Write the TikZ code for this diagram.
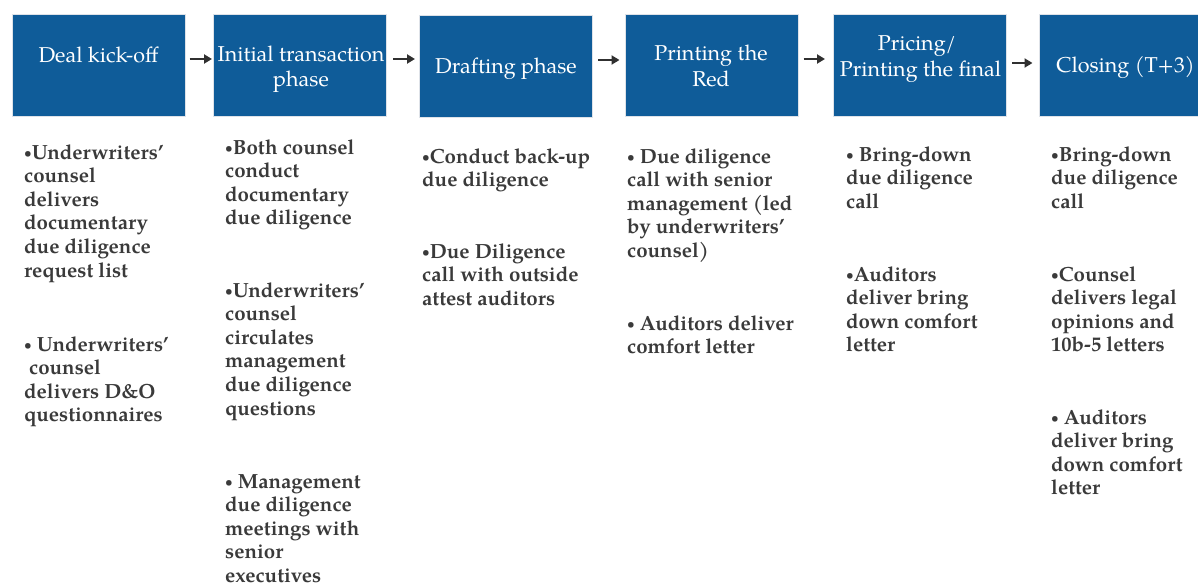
\documentclass[tikz,border=0pt]{standalone}
\usepackage{fontspec}
\setmainfont{texgyrepagella}[Extension=.otf, UprightFont=*-regular, BoldFont=*-bold, ItalicFont=*-italic, BoldItalicFont=*-bolditalic]
\usetikzlibrary{arrows.meta}
\definecolor{boxblue}{RGB}{15,92,153}
\definecolor{boxedge}{RGB}{222,226,232}
\definecolor{textgray}{RGB}{58,58,58}
\definecolor{arrowgray}{RGB}{48,48,48}
\newcommand\smbul{\raisebox{0.07em}{\scalebox{0.62}{•}}}
\tikzset{
  phasebox/.style={rectangle, fill=boxblue, draw=boxedge, line width=1pt, minimum width=173pt, minimum height=101pt, inner sep=0pt},
  ttl/.style={text=white, font=\fontsize{21.5}{26}\selectfont, anchor=base, inner sep=0pt},
  body/.style={text=textgray, font=\bfseries\fontsize{20.5}{24}\selectfont, anchor=base west, inner sep=0pt},
  flow/.style={draw=arrowgray, line width=2pt, -{Triangle[length=8pt,width=9pt]}}
}
\newcommand\bodypara[4]{%
  \foreach \lineT [count=\k] in {#4}{%
    \node[body] (#1-\k) at (#2,{#3+23.6*(\k-1)}) {\lineT};}}
\begin{document}
\begin{tikzpicture}[x=1pt,y=-1pt]
\useasboundingbox (0,0) rectangle (1198,586);
% boxes
\node[phasebox] (b1) at (98.5,65.5) {};
\node[phasebox] (b2) at (300,65.5) {};
\node[phasebox] (b3) at (506,66.5) {};
\node[phasebox] (b4) at (711.5,65.5) {};
\node[phasebox] (b5) at (920,65.5) {};
\node[phasebox] (b6) at (1125.5,65.5) {};
% titles
\node[ttl] (t1) at (98.5,63) {Deal kick-off};
\node[ttl] (t2a) at (301,61) {Initial transaction};
\node[ttl] (t2b) at (301,86) {phase};
\node[ttl] (t3) at (506,74) {Drafting phase};
\node[ttl] (t4a) at (711,60) {Printing the};
\node[ttl] (t4b) at (711,86) {Red};
\node[ttl] (t5a) at (917,51) {Pricing/};
\node[ttl] (t5b) at (920.5,76) {Printing the final};
\node[ttl] (t6) at (1125.5,73) {Closing (T+3)};
% arrows
\draw[flow, shorten <=4pt, shorten >=1pt] ([yshift=6.5pt]b1.east) -- ([yshift=6.5pt]b2.west);
\draw[flow, shorten <=6pt, shorten >=4pt] ([yshift=6.5pt]b2.east) -- ([yshift=7.5pt]b3.west);
\draw[flow, shorten <=5pt, shorten >=5pt] ([yshift=6.5pt]b3.east) -- ([yshift=5.5pt]b4.west);
\draw[flow, shorten <=5pt, shorten >=8pt] ([yshift=6.5pt]b4.east) -- ([yshift=6.5pt]b5.west);
\draw[flow, shorten <=5pt, shorten >=6pt] ([yshift=2.5pt]b5.east) -- ([yshift=2.5pt]b6.west);
% column 1
\bodypara{c1p1}{24}{159}{\smbul Underwriters’,counsel,delivers,documentary,due diligence,request list}
\bodypara{c1p2}{24}{351}{\smbul\ Underwriters’,\hspace*{5pt}counsel,delivers D\&O,questionnaires}
% column 2
\bodypara{c2p1}{225}{154}{\smbul Both counsel,conduct,documentary,due diligence}
\bodypara{c2p2}{225}{297}{\smbul Underwriters’,counsel,circulates,management,due diligence,questions}
\bodypara{c2p3}{225}{488}{\smbul\ Management,due diligence,meetings with,senior,executives}
% column 3
\bodypara{c3p1}{422}{163}{\smbul Conduct back-up,due diligence}
\bodypara{c3p2}{422}{258}{\smbul Due Diligence,call with outside,attest auditors}
% column 4
\bodypara{c4p1}{627}{163}{\smbul\ Due diligence,call with senior,management (led,by underwriters’,counsel)}
\bodypara{c4p2}{627}{330}{\smbul\ Auditors deliver,comfort letter}
% column 5
\bodypara{c5p1}{846}{161}{\smbul\ Bring-down,due diligence,call}
\bodypara{c5p2}{846}{281}{\smbul Auditors,deliver bring,down comfort,letter}
% column 6
\bodypara{c6p1}{1051}{161}{\smbul Bring-down,due diligence,call}
\bodypara{c6p2}{1051}{281}{\smbul Counsel,delivers legal,opinions and,10b-5 letters}
\bodypara{c6p3}{1051}{424}{\smbul\ Auditors,deliver bring,down comfort,letter}
\end{tikzpicture}
\end{document}
